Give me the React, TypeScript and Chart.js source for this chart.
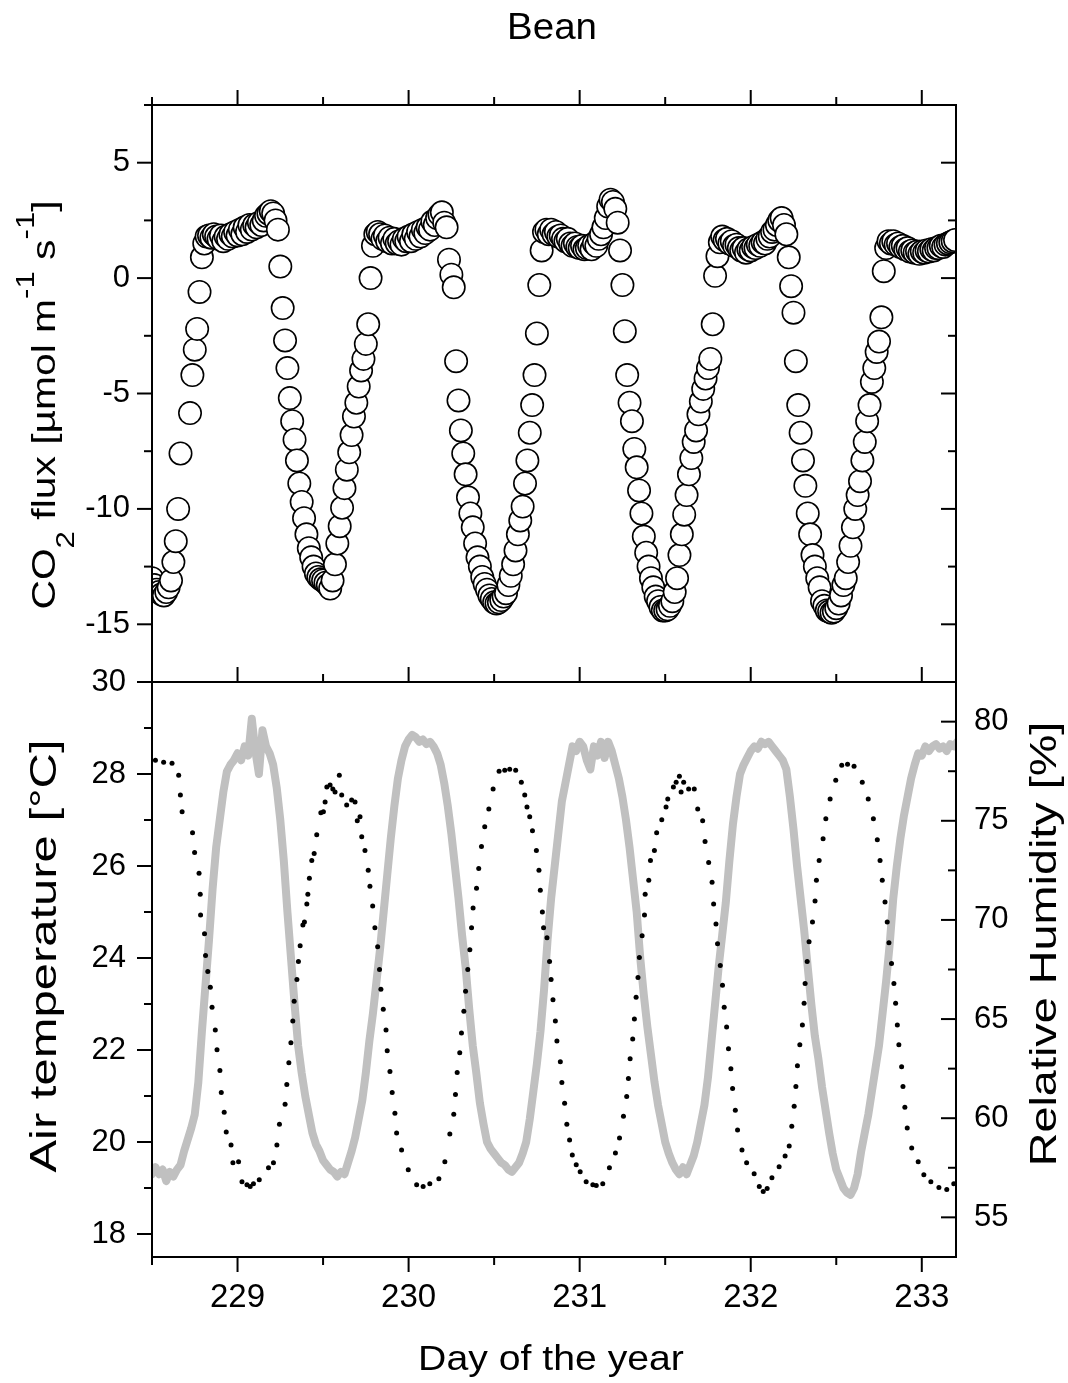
import React, { useEffect, useRef } from 'react';
import { Chart, registerables } from 'chart.js';

Chart.register(...registerables);

const FONT = '"Liberation Sans", Arial, Helvetica, sans-serif';

// ---- axes ----
const X_MIN = 228.5;
const X_MAX = 233.2;
const X_MAJOR = [229, 230, 231, 232, 233];
const X_MINOR = [228.5, 229.5, 230.5, 231.5, 232.5];
const CO2_MIN = -17.5;
const CO2_MAX = 7.5;
const CO2_MAJOR = [-15, -10, -5, 0, 5];
const CO2_MINOR = [-12.5, -7.5, -2.5, 2.5, 7.5];
const T_MIN = 17.5;
const T_MAX = 30;
const T_MAJOR = [18, 20, 22, 24, 26, 28, 30];
const T_MINOR = [19, 21, 23, 25, 27, 29];
const RH_MIN = 53;
const RH_MAX = 82;
const RH_MAJOR = [55, 60, 65, 70, 75, 80];
const RH_MINOR = [57.5, 62.5, 67.5, 72.5, 77.5];

// ---- CO2 flux, 20-min records starting at day 228.5 ----
const CO2_START = 228.5;
const CO2_STEP = 1 / 72;
const CO2_FLUX: (number | null)[] = [
  -13.0, -13.3, -13.5, -13.6, -13.7, -13.75, -13.6, -13.4, -13.1, -12.3, -11.4, -10.0,
  -7.6, null, null, null, -5.85, -4.2, -3.1, -2.2, -0.6, 0.9, 1.5, 1.8,
  1.85, 1.75, 1.9, 1.8, 1.7, 1.85, 1.6, 1.8, 1.7, 1.9, 1.8, 2.0,
  1.85, 2.1, 1.9, 2.2, 2.0, 2.3, 2.1, 2.3, 2.2, 2.4, 2.3, 2.5,
  2.7, 2.8, 2.9, 2.8, 2.5, 2.1, 0.5, -1.3, -2.7, -3.9, -5.2, -6.2,
  -7.0, -7.9, -8.9, -9.7, -10.4, -11.1, -11.7, -12.1, -12.5, -12.8, -12.95, -13.05,
  -13.1, -13.2, -13.3, -13.45, -13.1, -12.4, -11.5, -10.75, -9.95, -9.1, -8.3, -7.55,
  -6.8, -6.0, -5.4, -4.7, -4.0, -3.5, -2.85, -2.0, 0.0, 1.4, 1.9, 2.0,
  1.9, 1.7, 1.85, 1.6, 1.75, 1.5, 1.7, 1.5, 1.6, 1.45, 1.7, 1.6,
  1.8, 1.6, 1.9, 1.7, 2.0, 1.8, 2.1, 1.95, 2.2, 2.1, 2.45, 2.3,
  2.6, 2.75, 2.85, 2.4, 2.2, 0.8, 0.15, -0.4, -3.6, -5.3, -6.6, -7.6,
  -8.5, -9.5, -10.2, -10.8, -11.5, -12.1, -12.5, -12.95, -13.25, -13.5, -13.75, -13.9,
  -14.05, -14.1, -14.05, -13.95, -13.8, -13.65, -13.3, -12.9, -12.4, -11.8, -11.1, -10.5,
  -9.9, -8.9, -7.9, -6.7, -5.5, -4.2, -2.4, -0.3, 1.2, 2.0, 2.1, 1.9,
  2.1, 1.9, 2.0, 1.8, 1.85, 1.7, 1.6, 1.7, 1.5, 1.4, 1.5, 1.35,
  1.3, 1.4, 1.25, 1.3, 1.4, 1.25, 1.5, 1.4, 1.7, 1.9, 2.2, 2.6,
  3.1, 3.4, 3.3, 3.0, 2.4, 1.2, -0.3, -2.3, -4.2, -5.4, -6.2, -7.4,
  -8.2, -9.2, -10.2, -11.2, -11.9, -12.5, -13.0, -13.4, -13.8, -14.0, -14.25, -14.4,
  -14.4, -14.35, -14.2, -14.0, -13.6, -13.0, -12.0, -11.1, -10.25, -9.4, -8.5, -7.8,
  -7.1, -6.6, -5.9, -5.35, -4.8, -4.35, -3.9, -3.5, -2.0, 0.1, 0.95, 1.55,
  1.8, 1.65, 1.7, 1.5, 1.6, 1.4, 1.45, 1.3, 1.2, 1.3, 1.1, 1.25,
  1.2, 1.35, 1.3, 1.45, 1.4, 1.55, 1.5, 1.7, 1.8, 2.0, 2.1, 2.3,
  2.5, 2.6, 2.3, 1.9, 0.9, -0.35, -1.5, -3.6, -5.5, -6.7, -7.9, -9.0,
  -10.2, -11.1, -12.0, -12.5, -13.0, -13.4, -14.0, -14.2, -14.4, -14.45, -14.5, -14.45,
  -14.3, -14.1, -13.75, -13.3, -13.0, -12.3, -11.6, -10.8, -10.0, -9.4, -8.8, -7.9,
  -7.1, -6.2, -5.5, -4.5, -3.9, -3.2, -2.75, -1.7, 0.3, 1.3, 1.6, 1.5,
  1.6, 1.45, 1.5, 1.35, 1.4, 1.25, 1.3, 1.15, 1.2, 1.1, 1.15, 1.05,
  1.15, 1.1, 1.2, 1.15, 1.25, 1.2, 1.3, 1.3, 1.4, 1.35, 1.45, 1.5,
  1.55, 1.6, 1.65,
];

// ---- air temperature, 30-min records starting at day 228.5 ----
const T_START = 228.5;
const T_STEP = 1 / 48;
const AIR_TEMP = [
  19.3, 19.45, 19.3, 19.4, 19.15, 19.35, 19.25, 19.4, 19.5, 19.8,
  20.05, 20.3, 20.6, 21.3, 22.4, 23.4, 24.4, 25.5, 26.4, 27.0,
  27.6, 28.05, 28.2, 28.3, 28.45, 28.3, 28.6, 28.4, 29.2, 28.5,
  28.0, 28.95, 28.6, 28.45, 28.2, 27.7, 27.0, 26.1, 25.0, 24.0,
  23.0, 22.1, 21.5, 21.0, 20.6, 20.2, 19.95, 19.8, 19.6, 19.5,
  19.4, 19.35, 19.25, 19.35, 19.3, 19.55, 19.8, 20.1, 20.5, 20.9,
  21.5, 22.2, 22.8, 23.5, 24.2, 25.0, 25.8, 26.6, 27.3, 27.9,
  28.3, 28.6, 28.75, 28.85, 28.8, 28.7, 28.75, 28.65, 28.7, 28.6,
  28.45, 28.2, 27.8, 27.3, 26.7, 26.0, 25.3, 24.5, 23.8, 22.9,
  22.1, 21.5, 20.85, 20.4, 20.0, 19.85, 19.75, 19.65, 19.55, 19.5,
  19.4, 19.35, 19.45, 19.55, 19.75, 20.0, 20.5, 21.1, 21.7, 22.4,
  23.3, 24.4, 25.3, 26.0, 26.7, 27.4, 27.8, 28.2, 28.6, 28.5,
  28.7, 28.6, 28.3, 28.1, 28.6, 28.4, 28.7, 28.35, 28.7, 28.5,
  28.2, 27.9, 27.5, 27.0, 26.4, 25.7, 25.0, 24.0, 23.2, 22.5,
  21.9, 21.3, 20.8, 20.4, 20.0, 19.75, 19.55, 19.4, 19.3, 19.45,
  19.3, 19.5, 19.7, 20.0, 20.4, 20.8, 21.4, 22.2, 23.0, 23.8,
  24.5, 25.2, 26.1, 26.9, 27.5, 28.0, 28.2, 28.35, 28.5, 28.6,
  28.55, 28.7, 28.65, 28.7, 28.6, 28.5, 28.4, 28.3, 28.1, 27.5,
  26.8, 26.0, 25.3, 24.6, 23.8, 23.0, 22.3, 21.8, 21.2, 20.7,
  20.2, 19.75, 19.4, 19.2, 19.0, 18.9, 18.85, 19.0, 19.3, 19.8,
  20.2, 20.6, 21.1, 21.6, 22.1, 22.8, 23.5, 24.3, 25.3, 26.0,
  26.6, 27.1, 27.5, 27.9, 28.2, 28.45, 28.4, 28.6, 28.5, 28.6,
  28.65, 28.55, 28.6, 28.5, 28.65, 28.6, 28.7,
];

// ---- relative humidity readings (day, %) ----
const RH_DAY = [
  228.520, 228.568, 228.617, 228.656, 228.666, 228.676, 228.737, 228.749, 228.775, 228.782,
  228.784, 228.807, 228.813, 228.826, 228.841, 228.851, 228.870, 228.880, 228.897, 228.905,
  228.922, 228.934, 228.962, 228.973, 229.006, 229.026, 229.055, 229.074, 229.093, 229.127,
  229.181, 229.210, 229.230, 229.245, 229.278, 229.288, 229.300, 229.312, 229.323, 229.331,
  229.347, 229.356, 229.366, 229.382, 229.391, 229.405, 229.411, 229.420, 229.434, 229.448,
  229.463, 229.487, 229.502, 229.512, 229.522, 229.541, 229.557, 229.570, 229.595, 229.609,
  229.638, 229.667, 229.687, 229.700, 229.716, 229.726, 229.745, 229.764, 229.774, 229.790,
  229.803, 229.819, 229.830, 229.838, 229.852, 229.868, 229.875, 229.891, 229.904, 229.920,
  229.930, 229.959, 229.998, 230.047, 230.085, 230.124, 230.177, 230.212, 230.241, 230.264,
  230.274, 230.284, 230.299, 230.309, 230.323, 230.333, 230.346, 230.358, 230.368, 230.377,
  230.397, 230.410, 230.426, 230.445, 230.469, 230.494, 230.529, 230.562, 230.591, 230.626,
  230.659, 230.679, 230.692, 230.708, 230.724, 230.747, 230.762, 230.770, 230.782, 230.789,
  230.809, 230.824, 230.833, 230.844, 230.858, 230.867, 230.887, 230.896, 230.912, 230.925,
  230.941, 230.957, 230.980, 231.003, 231.038, 231.077, 231.097, 231.135, 231.174, 231.209,
  231.233, 231.256, 231.275, 231.285, 231.295, 231.310, 231.320, 231.330, 231.341, 231.349,
  231.365, 231.379, 231.383, 231.404, 231.414, 231.437, 231.450, 231.480, 231.505, 231.515,
  231.548, 231.564, 231.583, 231.593, 231.608, 231.637, 231.670, 231.690, 231.719, 231.733,
  231.754, 231.774, 231.783, 231.797, 231.806, 231.822, 231.835, 231.845, 231.859, 231.870,
  231.884, 231.894, 231.910, 231.923, 231.949, 231.976, 232.020, 232.050, 232.073, 232.096,
  232.124, 232.166, 232.201, 232.225, 232.240, 232.254, 232.264, 232.273, 232.287, 232.302,
  232.312, 232.318, 232.330, 232.341, 232.361, 232.376, 232.384, 232.400, 232.423, 232.439,
  232.464, 232.497, 232.532, 232.566, 232.604, 232.652, 232.687, 232.717, 232.740, 232.756,
  232.769, 232.785, 232.798, 232.808, 232.823, 232.837, 232.847, 232.857, 232.866, 232.882,
  232.890, 232.901, 232.915, 232.941, 232.979, 233.012, 233.053, 233.100, 233.146, 233.187,
];
const RH_VAL = [
  78.05, 77.95, 77.9, 77.3, 76.3, 75.45, 74.4, 73.4, 72.35, 71.3,
  70.25, 69.3, 68.2, 67.4, 66.6, 65.6, 64.45, 63.45, 62.4, 61.3,
  60.3, 59.3, 58.65, 57.75, 57.8, 56.8, 56.65, 56.55, 56.7, 56.9,
  57.5, 57.75, 58.65, 59.7, 60.7, 61.7, 62.8, 63.8, 64.9, 65.9,
  67.0, 67.9, 68.7, 69.75, 69.9, 70.8, 71.3, 72.1, 73.0, 73.35,
  74.3, 75.4, 75.45, 75.95, 76.7, 76.8, 76.6, 76.45, 77.3, 76.3,
  75.8, 76.05, 75.95, 75.0, 75.2, 74.2, 73.5, 72.5, 71.7, 70.7,
  69.6, 68.65, 67.5, 66.5, 65.5, 64.45, 63.4, 62.35, 61.3, 60.25,
  59.25, 58.4, 57.4, 56.65, 56.55, 56.7, 56.95, 57.8, 59.2, 60.2,
  61.2, 62.3, 63.3, 64.3, 65.4, 66.4, 67.5, 68.5, 69.6, 70.6,
  71.6, 72.6, 73.7, 74.7, 75.6, 76.6, 77.5, 77.55, 77.6, 77.55,
  76.95, 76.3, 75.7, 75.2, 74.5, 73.5, 72.5, 71.5, 70.4, 69.6,
  69.1, 67.9, 67.0, 65.97, 64.9, 63.9, 62.85, 61.8, 60.75, 59.7,
  58.9, 58.15, 57.65, 57.3, 56.8, 56.65, 56.6, 56.7, 57.5, 58.25,
  59.0, 60.1, 61.1, 62.0, 63.0, 64.0, 65.0, 66.1, 67.1, 68.1,
  69.2, 70.25, 71.3, 72.0, 73.0, 73.5, 74.4, 75.05, 75.7, 76.1,
  76.7, 76.95, 77.25, 76.45, 76.95, 76.6, 76.6, 75.6, 75.0, 73.95,
  72.9, 71.9, 70.8, 69.8, 68.8, 67.7, 66.7, 65.6, 64.6, 63.5,
  62.5, 61.5, 60.4, 59.4, 58.4, 57.75, 57.2, 56.55, 56.3, 56.45,
  57.0, 57.55, 58.1, 58.6, 59.6, 60.6, 61.6, 62.65, 63.7, 64.7,
  65.8, 66.8, 67.9, 68.9, 69.9, 70.95, 72.0, 73.0, 74.1, 75.1,
  76.1, 77.05, 77.8, 77.85, 77.75, 76.95, 76.1, 75.1, 74.05, 73.0,
  72.0, 70.9, 69.9, 68.85, 67.8, 66.8, 65.8, 64.7, 63.7, 62.6,
  61.6, 60.55, 59.5, 58.5, 57.8, 57.15, 56.8, 56.5, 56.4, 56.7,
];

// ---- helpers ----
type Seg = { t: string; size: number; dy: number };

function drawRich(ctx: CanvasRenderingContext2D, segs: Seg[], x: number, y: number, rotate: boolean, sx: number) {
  ctx.save();
  ctx.translate(x, y);
  if (rotate) ctx.rotate(-Math.PI / 2);
  ctx.scale(sx, 1);
  ctx.fillStyle = '#000';
  ctx.textBaseline = 'alphabetic';
  ctx.textAlign = 'left';
  let total = 0;
  const widths = segs.map((s) => {
    ctx.font = `${s.size}px ${FONT}`;
    const w = ctx.measureText(s.t).width;
    total += w;
    return w;
  });
  let cx = -total / 2;
  segs.forEach((s, i) => {
    ctx.font = `${s.size}px ${FONT}`;
    ctx.fillText(s.t, cx, s.dy);
    cx += widths[i];
  });
  ctx.restore();
}

function seg(ctx: CanvasRenderingContext2D, x1: number, y1: number, x2: number, y2: number) {
  ctx.beginPath();
  ctx.moveTo(x1, y1);
  ctx.lineTo(x2, y2);
  ctx.stroke();
}

const MAJ = 15;
const MIN = 8;

const topFramePlugin = {
  id: 'topFrame',
  afterDraw(chart: any) {
    const { ctx, chartArea: a, scales } = chart;
    const xs = scales.x;
    const ys = scales.y;
    ctx.save();
    ctx.strokeStyle = '#000';
    ctx.lineWidth = 2;
    ctx.lineCap = 'square';
    ctx.strokeRect(a.left, a.top, a.right - a.left, a.bottom - a.top);
    ctx.lineCap = 'butt';
    CO2_MAJOR.forEach((v) => {
      const y = ys.getPixelForValue(v);
      seg(ctx, a.left - MAJ, y, a.left, y);
      seg(ctx, a.right - MAJ, y, a.right, y);
    });
    CO2_MINOR.forEach((v) => {
      const y = ys.getPixelForValue(v);
      seg(ctx, a.left - MIN, y, a.left, y);
      seg(ctx, a.right - MIN, y, a.right, y);
    });
    X_MAJOR.forEach((v) => {
      const x = xs.getPixelForValue(v);
      seg(ctx, x, a.top - MAJ, x, a.top);
      seg(ctx, x, a.bottom - MAJ, x, a.bottom);
    });
    X_MINOR.forEach((v) => {
      const x = xs.getPixelForValue(v);
      seg(ctx, x, a.top - MIN, x, a.top);
      seg(ctx, x, a.bottom - MIN, x, a.bottom);
    });
    ctx.restore();

    drawRich(ctx, [{ t: 'Bean', size: 37, dy: 0 }], 552, 39, false, 1.04);
    drawRich(
      ctx,
      [
        { t: 'CO', size: 34, dy: 0 },
        { t: '2', size: 26, dy: 19 },
        { t: ' flux [µmol m', size: 34, dy: 0 },
        { t: '-1', size: 26, dy: -21 },
        { t: ' s', size: 34, dy: 0 },
        { t: '-1', size: 26, dy: -21 },
        { t: ']', size: 34, dy: 0 },
      ],
      55,
      405,
      true,
      1.2
    );
  },
};

const BOT_TOP = 660;

const bottomFramePlugin = {
  id: 'bottomFrame',
  afterDraw(chart: any) {
    const { ctx, chartArea: a, scales } = chart;
    const xs = scales.x;
    const yt = scales.y;
    const yr = scales.y2;
    ctx.save();
    ctx.strokeStyle = '#000';
    ctx.lineWidth = 2;
    ctx.lineCap = 'square';
    ctx.strokeRect(a.left, a.top, a.right - a.left, a.bottom - a.top);
    ctx.lineCap = 'butt';
    T_MAJOR.forEach((v) => {
      const y = yt.getPixelForValue(v);
      seg(ctx, a.left - MAJ, y, a.left, y);
    });
    T_MINOR.forEach((v) => {
      const y = yt.getPixelForValue(v);
      seg(ctx, a.left - MIN, y, a.left, y);
    });
    RH_MAJOR.forEach((v) => {
      const y = yr.getPixelForValue(v);
      seg(ctx, a.right - MAJ, y, a.right, y);
    });
    RH_MINOR.forEach((v) => {
      const y = yr.getPixelForValue(v);
      seg(ctx, a.right - MIN, y, a.right, y);
    });
    X_MAJOR.forEach((v) => {
      const x = xs.getPixelForValue(v);
      seg(ctx, x, a.bottom, x, a.bottom + MAJ);
    });
    X_MINOR.forEach((v) => {
      const x = xs.getPixelForValue(v);
      seg(ctx, x, a.bottom, x, a.bottom + MIN);
    });
    ctx.restore();

    drawRich(ctx, [{ t: 'Day of the year', size: 35, dy: 0 }], 551, 1370 - BOT_TOP, false, 1.12);
    drawRich(ctx, [{ t: 'Air temperature [°C]', size: 36, dy: 0 }], 56, 956 - BOT_TOP, true, 1.36);
    drawRich(ctx, [{ t: 'Relative Humidity [%]', size: 36, dy: 0 }], 1056, 944 - BOT_TOP, true, 1.3);
  },
};

const tickFont = (size: number) => ({ family: FONT, size });

export default function App() {
  const topRef = useRef<HTMLCanvasElement>(null);
  const botRef = useRef<HTMLCanvasElement>(null);

  useEffect(() => {
    Chart.defaults.font.family = FONT;
    const co2Points = CO2_FLUX.map((v, i) => ({ x: CO2_START + i * CO2_STEP, y: v }));
    const tempPoints = AIR_TEMP.map((v, i) => ({ x: T_START + i * T_STEP, y: v }));
    const rhPoints = RH_DAY.map((d, i) => ({ x: d, y: RH_VAL[i] }));

    const c1 = new Chart(topRef.current as HTMLCanvasElement, {
      type: 'scatter',
      data: {
        datasets: [
          {
            data: co2Points as any,
            pointRadius: 11.2,
            pointHoverRadius: 11.2,
            pointBorderWidth: 1.6,
            pointBackgroundColor: '#ffffff',
            pointBorderColor: '#000000',
            showLine: false,
          },
        ],
      },
      options: {
        responsive: false,
        animation: false,
        devicePixelRatio: 1,
        events: [],
        layout: { padding: { left: 0, right: 112, top: 105, bottom: 18 } },
        plugins: { legend: { display: false }, tooltip: { enabled: false }, title: { display: false } },
        scales: {
          x: { type: 'linear', min: X_MIN, max: X_MAX, display: false },
          y: {
            type: 'linear',
            position: 'left',
            min: CO2_MIN,
            max: CO2_MAX,
            afterBuildTicks: (s: any) => {
              s.ticks = CO2_MAJOR.map((v) => ({ value: v }));
            },
            afterFit: (s: any) => {
              s.width = 152;
              s.paddingTop = 0;
              s.paddingBottom = 0;
            },
            grid: { display: false, drawTicks: false },
            border: { display: false },
            ticks: { font: tickFont(31), color: '#000', padding: 22 },
          },
        },
      } as any,
      plugins: [topFramePlugin],
    });

    const c2 = new Chart(botRef.current as HTMLCanvasElement, {
      type: 'line',
      data: {
        datasets: [
          {
            type: 'scatter',
            data: rhPoints as any,
            yAxisID: 'y2',
            pointRadius: 2.5,
            pointHoverRadius: 2.5,
            pointBorderWidth: 0,
            pointBackgroundColor: '#000',
            showLine: false,
          } as any,
          {
            type: 'line',
            data: tempPoints as any,
            yAxisID: 'y',
            borderColor: '#c0c0c0',
            borderWidth: 8,
            pointRadius: 0,
            pointHoverRadius: 0,
            tension: 0,
            borderJoinStyle: 'round',
            borderCapStyle: 'round',
            fill: false,
          } as any,
        ],
      },
      options: {
        responsive: false,
        animation: false,
        devicePixelRatio: 1,
        events: [],
        layout: { padding: { left: 0, right: 0, top: 22, bottom: 0 } },
        plugins: { legend: { display: false }, tooltip: { enabled: false }, title: { display: false } },
        scales: {
          x: {
            type: 'linear',
            position: 'bottom',
            min: X_MIN,
            max: X_MAX,
            afterBuildTicks: (s: any) => {
              s.ticks = X_MAJOR.map((v) => ({ value: v }));
            },
            afterFit: (s: any) => {
              s.height = 126;
              s.paddingLeft = 0;
              s.paddingRight = 0;
            },
            grid: { display: false, drawTicks: false },
            border: { display: false },
            ticks: { font: tickFont(33), color: '#000', padding: 21, maxRotation: 0, autoSkip: false },
          },
          y: {
            type: 'linear',
            position: 'left',
            min: T_MIN,
            max: T_MAX,
            afterBuildTicks: (s: any) => {
              s.ticks = T_MAJOR.map((v) => ({ value: v }));
            },
            afterFit: (s: any) => {
              s.width = 152;
              s.paddingTop = 0;
              s.paddingBottom = 0;
            },
            grid: { display: false, drawTicks: false },
            border: { display: false },
            ticks: { font: tickFont(31), color: '#000', padding: 26 },
          },
          y2: {
            type: 'linear',
            position: 'right',
            min: RH_MIN,
            max: RH_MAX,
            afterBuildTicks: (s: any) => {
              s.ticks = RH_MAJOR.map((v) => ({ value: v }));
            },
            afterFit: (s: any) => {
              s.width = 112;
              s.paddingTop = 0;
              s.paddingBottom = 0;
            },
            grid: { display: false, drawTicks: false },
            border: { display: false },
            ticks: { font: tickFont(31), color: '#000', padding: 18 },
          },
        },
      } as any,
      plugins: [bottomFramePlugin],
    });

    return () => {
      c1.destroy();
      c2.destroy();
    };
  }, []);

  return (
    <div style={{ position: 'absolute', left: 0, top: 0, width: 1068, height: 1383, background: '#fff', overflow: 'hidden' }}>
      <canvas
        ref={topRef}
        width={1068}
        height={700}
        style={{ position: 'absolute', left: 0, top: 0, width: 1068, height: 700 }}
      />
      <canvas
        ref={botRef}
        width={1068}
        height={723}
        style={{ position: 'absolute', left: 0, top: BOT_TOP, width: 1068, height: 723 }}
      />
    </div>
  );
}
